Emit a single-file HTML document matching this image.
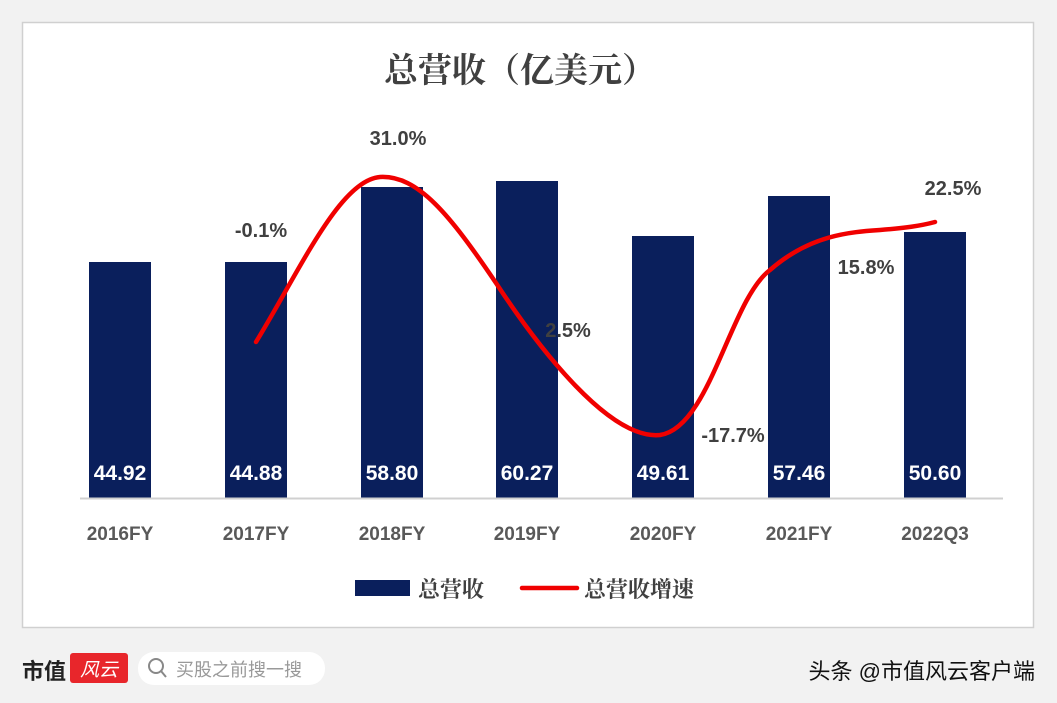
<!DOCTYPE html>
<html><head><meta charset="utf-8"><style>
body{margin:0;width:1057px;height:703px;background:#f2f2f2;overflow:hidden;font-family:"Liberation Sans","Noto Sans CJK SC",sans-serif}
</style></head><body>
<svg width="1057" height="703" xmlns="http://www.w3.org/2000/svg" style="position:absolute;left:0;top:0">
<rect x="22.5" y="22.5" width="1011" height="605" fill="#fff" stroke="#d0d0d0" stroke-width="1.5"/>
<text x="520" y="82" text-anchor="middle" font-family="Noto Serif CJK SC,serif" font-size="34" fill="#404040" font-weight="bold">总营收（亿美元）</text>
<g fill="#0a1f5c">
<rect x="89" y="262" width="62" height="236"/>
<rect x="225" y="262" width="62" height="236"/>
<rect x="361" y="187" width="62" height="311"/>
<rect x="496" y="181" width="62" height="317"/>
<rect x="632" y="236" width="62" height="262"/>
<rect x="768" y="196" width="62" height="302"/>
<rect x="904" y="232" width="62" height="266"/>
</g>
<line x1="80" y1="498.5" x2="1003" y2="498.5" stroke="#d0d0d0" stroke-width="2"/>
<g fill="#fff" font-weight="bold" font-size="21" text-anchor="middle">
<text x="120" y="480">44.92</text><text x="256" y="480">44.88</text><text x="392" y="480">58.80</text>
<text x="527" y="480">60.27</text><text x="663" y="480">49.61</text><text x="799" y="480">57.46</text><text x="935" y="480">50.60</text>
</g>
<g fill="#595959" font-weight="bold" font-size="19" text-anchor="middle">
<text x="120" y="540">2016FY</text><text x="256" y="540">2017FY</text><text x="392" y="540">2018FY</text>
<text x="527" y="540">2019FY</text><text x="663" y="540">2020FY</text><text x="799" y="540">2021FY</text><text x="935" y="540">2022Q3</text>
</g>
<path d="M256,342 C300,270 340,180 380,177 C418,175 450,215 496,283 C540,350 610,440 660,435 C710,428 730,300 770,270 C810,235 850,232 880,230 C905,228 920,226 935,222" fill="none" stroke="#f00000" stroke-width="4.5" stroke-linecap="round"/>
<g fill="#404040" font-weight="bold" font-size="20" text-anchor="middle">
<text x="568" y="337">2.5%</text>
<text x="398" y="145">31.0%</text><text x="261" y="237">-0.1%</text>
<text x="733" y="442">-17.7%</text><text x="866" y="274">15.8%</text><text x="953" y="195">22.5%</text>
</g>
<rect x="355" y="580" width="55" height="16" fill="#0a1f5c"/>
<text x="418" y="597" font-family="Noto Serif CJK SC,serif" font-size="22" fill="#404040" font-weight="bold">总营收</text>
<line x1="522" y1="588" x2="577" y2="588" stroke="#f00000" stroke-width="4.5" stroke-linecap="round"/>
<text x="584" y="597" font-family="Noto Serif CJK SC,serif" font-size="22" fill="#404040" font-weight="bold">总营收增速</text>
<text x="22" y="679" font-size="22" font-weight="bold" fill="#222">市值</text>
<rect x="70" y="653" width="58" height="30" rx="3" fill="#e8262b"/>
<text x="99" y="676" text-anchor="middle" font-size="19" fill="#fff" font-style="italic">风云</text>
<rect x="138" y="652" width="187" height="33" rx="16" fill="#fff"/>
<circle cx="156" cy="666" r="7" fill="none" stroke="#888" stroke-width="2"/>
<line x1="161" y1="671" x2="166" y2="677" stroke="#888" stroke-width="2"/>
<text x="176" y="676" font-size="18" fill="#999">买股之前搜一搜</text>
<text x="1035" y="679" text-anchor="end" font-size="22" fill="#111">头条 @市值风云客户端</text>
</svg>
</body></html>
